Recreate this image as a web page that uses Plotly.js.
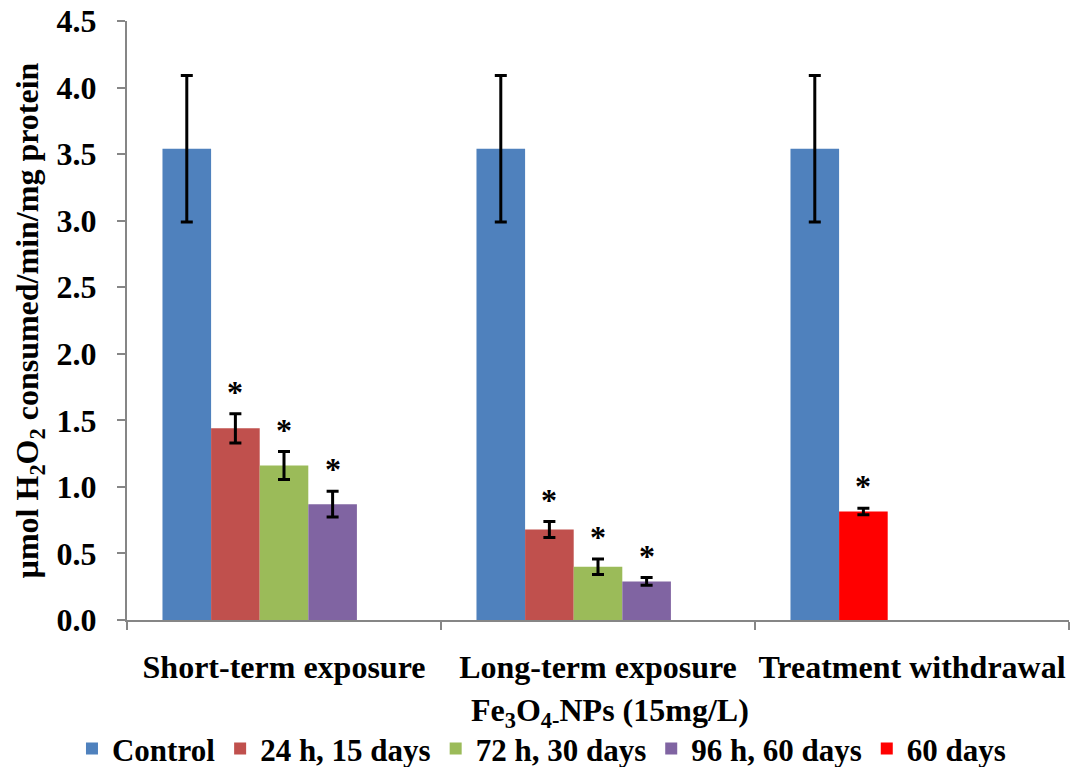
<!DOCTYPE html>
<html>
<head>
<meta charset="utf-8">
<script src="https://cdn.plot.ly/plotly-3.0.1.min.js"></script>
<style>html,body{margin:0;padding:0;background:#fff;}#chart{width:1080px;height:767px;}</style>
</head>
<body>
<div id="chart"></div>
<script>
// ---- data ----
var categories = ["Short-term exposure", "Long-term exposure", "Treatment withdrawal"];
var seriesNames = ["Control", "24 h, 15 days", "72 h, 30 days", "96 h, 60 days", "60 days"];
var controlValues = [3.54, 3.54, 3.54];
var controlErrors = [0.55, 0.55, 0.55];
var h24Values = [1.44, 0.68, null];
var h24Errors = [0.11, 0.06, 0];
var h72Values = [1.16, 0.40, null];
var h72Errors = [0.105, 0.058, 0];
var h96Values = [0.87, 0.29, null];
var h96Errors = [0.097, 0.029, 0];
var d60Values = [null, null, 0.815];
var d60Errors = [0, 0, 0.025];
var significant = [
  [false, false, false],
  [true, true, false],
  [true, true, false],
  [true, true, false],
  [false, false, true]
];
var xTitle = "Fe<sub>3</sub>O<sub>4-</sub>NPs (15mg/L)";
var yTitle = "µmol H<sub>2</sub>O<sub>2</sub> consumed/min/mg protein";

// ---- style ----
var colors = ["#4F81BD", "#C0504D", "#9BBB59", "#8064A2", "#FF0000"];
var FONT = "Liberation Serif, Times New Roman, serif";
var FS = 32;
var LFS = 31;
var AXC = "#868686";
var bargap = 0.226;
var nSlots = 5;
var slotW = (1 - bargap) / nSlots;
// slot used by each series inside a category (the withdrawal bar sits next to control)
var slotOf = [0, 1, 2, 3, 1];

var valuesList = [controlValues, h24Values, h72Values, h96Values, d60Values];
var errorsList = [controlErrors, h24Errors, h72Errors, h96Errors, d60Errors];

function slotStart(i) { return -(1 - bargap) / 2 + slotW * slotOf[i]; }

var traces = valuesList.map(function (vals, i) {
  return {
    type: "bar",
    name: seriesNames[i],
    x: categories,
    y: vals,
    offset: slotStart(i),
    width: slotW,
    marker: {color: colors[i], line: {width: 0}},
    error_y: {type: "data", array: errorsList[i], visible: true, color: "#000", thickness: 3, width: 6},
    hoverinfo: "y+name"
  };
});

var annotations = [];
valuesList.forEach(function (vals, i) {
  vals.forEach(function (v, c) {
    if (v !== null && significant[i][c]) {
      annotations.push({
        x: c + slotStart(i) + slotW / 2, y: v + errorsList[i][c],
        xref: "x", yref: "y",
        text: "*", showarrow: false,
        xanchor: "center", yanchor: "bottom", yshift: 2,
        font: {family: FONT, size: FS, color: "#000", weight: "bold"}
      });
    }
  });
});

annotations.push({
  x: 0.513, y: -0.155, xref: "paper", yref: "paper",
  text: xTitle, showarrow: false, xanchor: "center", yanchor: "middle",
  font: {family: FONT, size: FS, color: "#000", weight: "bold"}
});
annotations.push({
  x: -0.103, y: 0.5, xref: "paper", yref: "paper",
  text: yTitle, showarrow: false, textangle: -90, xanchor: "center", yanchor: "middle",
  font: {family: FONT, size: FS, color: "#000", weight: "bold"}
});

var layout = {
  width: 1080, height: 767,
  margin: {l: 127, r: 11, t: 21, b: 147, autoexpand: false},
  paper_bgcolor: "#fff", plot_bgcolor: "#fff",
  barmode: "group", bargap: bargap, bargroupgap: 0,
  showlegend: true,
  legend: {
    orientation: "h", x: 0.44, xanchor: "center", y: -0.215, yanchor: "middle",
    font: {family: FONT, size: LFS, color: "#000", weight: "bold"},
    traceorder: "normal", itemclick: false
  },
  xaxis: {
    type: "category", automargin: false, tickangle: 0,
    showline: true, linecolor: AXC, linewidth: 2,
    ticks: "outside", tickson: "boundaries", ticklen: 8, tickcolor: AXC, tickwidth: 2,
    tickfont: {family: FONT, size: FS, color: "#000", weight: "bold"},
    ticklabelstandoff: 18,
    showgrid: false, zeroline: false
  },
  yaxis: {
    range: [0, 4.5], dtick: 0.5, tickformat: ".1f", automargin: false,
    showline: true, linecolor: AXC, linewidth: 2,
    ticks: "outside", ticklen: 8, tickcolor: AXC, tickwidth: 2,
    tickfont: {family: FONT, size: FS, color: "#000", weight: "bold"},
    ticklabelstandoff: 14,
    showgrid: false, zeroline: false
  },
  annotations: annotations,
  font: {family: FONT, color: "#000"}
};

Plotly.newPlot("chart", traces, layout, {displayModeBar: false, staticPlot: true});
</script>
</body>
</html>
